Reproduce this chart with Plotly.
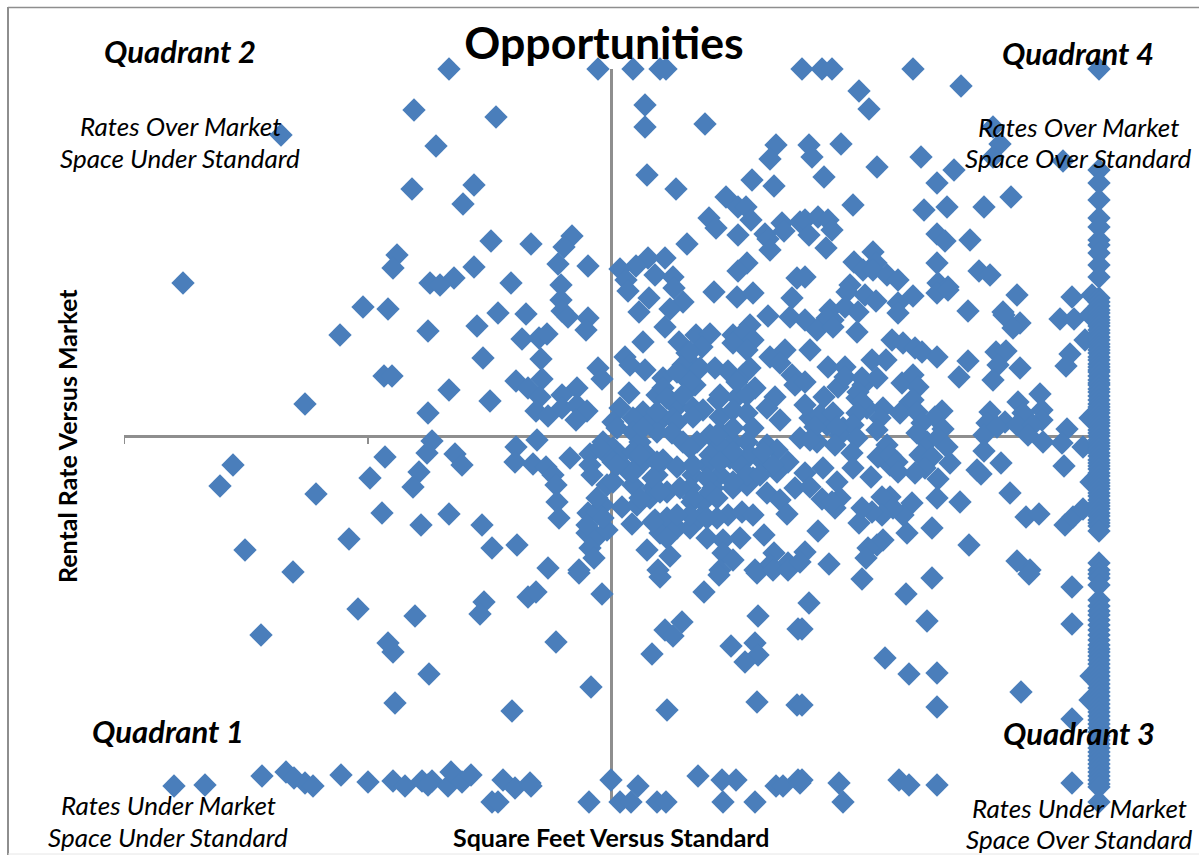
import plotly.graph_objects as go

# Values. x = square feet versus standard, y = rental rate versus market
top_row = [(-162,367),(-13,367),(22,367),(49,367),(55,367),(191,367),(211,367),(221,367),(302,367),(488,367)]

upper_left = [(-197,326),(-115,319),(-175,290),(-199,247),(-137,251),(-148,232),(-330,301),(-428,153),(-214,181),(-218,168),
(-39,200),(-47,189),(-80,192),(-120,195),(-53,172),(-23,170),(-137,169),(-157,158),(-181,153),(-171,151),(-100,153),(-50,151),
(-248,129),(-223,127),(-271,101),(-227,60),(-219,60),(-306,32),(-50,136),(-49,125),(-43,119),(-23,118),(-25,106),(-113,123),
(-85,122),(-134,110),(-183,105),(-89,97),(-72,98),(-64,102),(-128,78),(-70,77),(-13,68),(-9,57),(-69,57),(-95,55),(-83,48),
(-71,39),(-34,48),(-49,41),(-162,46),(-121,35),(-183,23),(-75,25),(-63,20),(-49,28),(-34,31),(-24,25),(-35,16)]

lower_left = [(-378,-29),(-391,-50),(-295,-58),(-226,-21),(-241,-42),(-229,-77),(-262,-103),(-366,-114),(-318,-136),
(-179,-5),(-184,-17),(-156,-18),(-149,-29),(-192,-36),(-198,-51),(-95,-11),(-74,-4),(-96,-26),(-78,-28),(-65,-31),(-58,-39),
(-55,-49),(-54,-66),(-52,-82),(-41,-22),(-21,-18),(-162,-78),(-190,-89),(-129,-89),(-119,-112),(-94,-109),(-63,-132),(-32,-134),
(-8,-6),(-21,-29),(-19,-39),(-4,-49),(-8,-69),(-23,-77),(-14,-76),(-24,-97),(-14,-101),(-21,-112),(-17,-122),(-4,-94),
(-196,-180),(-127,-166),(-131,-178),(-83,-161),(-75,-156),(-32,-137),(-9,-158),(-55,-206),(-218,-216),(-223,-207),(-182,-238),
(-20,-251),(-99,-275),(-216,-267),(-253,-173),(-350,-199)]

bottom_row = [(-437,-350),(-406,-349),(-349,-340),(-325,-336),(-317,-342),(-306,-347),(-298,-350),(-270,-339),(-243,-346),
(-218,-345),(-206,-350),(-189,-345),(-179,-345),(-183,-349),(-163,-350),(-160,-336),(-149,-346),(-140,-339),(-108,-344),
(-96,-352),(-81,-347),(-80,-350),(-119,-366),(-113,-366),(-22,-366),(0,-344),(27,-350),(9,-366),(20,-366),(46,-366),(55,-366),
(87,-340),(111,-344),(125,-344),(112,-366),(144,-366),(165,-350),(172,-350),(187,-344),(191,-344),(189,-347),(228,-347),
(232,-366),(288,-344),(298,-349),(326,-349),(461,-347)]

upper_right_high = [(34,331),(34,309),(94,312),(165,291),(159,277),(36,261),(65,247),(141,256),(163,250),(115,239),(127,229),
(135,229),(140,216),(98,218),(105,208),(127,201),(154,202),(157,197),(159,186),(171,213),(173,205),(189,214),(76,192),(136,173),
(127,165),(54,178),(37,178),(25,170),(9,167),(44,161),(62,159),(15,156),(186,158),(248,345),(258,327),(350,350),(382,309),
(389,292),(382,279),(452,275),(198,291),(201,279),(230,292),(213,259),(266,269),(310,279),(343,266),(326,253),(242,231),
(313,226),(336,229),(373,229),(400,239),(194,216),(207,219),(217,216),(221,206),(198,201),(215,188),(326,202),(334,195),
(359,196),(326,173),(368,165),(379,161),(262,184),(243,174),(265,173),(252,166),(262,166),(276,161),(287,156),(194,159),
(239,151),(327,153),(337,149)]

center_upper = [(17,145),(38,138),(72,134),(59,127),(28,124),(63,148),(103,144),(126,139),(142,143),(157,120),(181,138),(179,119),
(54,109),(32,94),(139,111),(68,94),(85,101),(99,102),(122,101),(132,103),(142,96),(122,93),(136,86),(91,89),(76,83),(82,71),
(72,71),(14,79),(19,71),(34,66),(52,58),(71,61),(84,51),(104,68),(117,65),(132,61),(139,68),(144,48),(159,79),(174,86),(169,73),
(181,61),(164,39),(184,51),(18,43),(46,41),(52,48),(59,36),(66,29),(9,28),(32,24),(22,18),(39,14),(52,18),(62,18),(82,28),(92,26),
(107,36),(126,39),(109,19),(122,26),(136,23),(142,8),(156,28),(169,16),(82,19),(66,14),(2,14),(6,8),(22,4),(46,4),(61,3),(99,1),(109,4)]

center_lower = [(29,-6),(72,-6),(86,-6),(122,-6),(109,-9),(136,-6),(156,-9),(166,-14),(177,-26),(2,-12),(9,-19),(-4,-19),(22,-16),
(36,-19),(52,-24),(79,-12),(99,-19),(119,-22),(139,-19),(152,-26),(2,-46),(16,-34),(29,-29),(46,-39),(66,-31),(82,-39),(96,-29),
(109,-39),(129,-29),(142,-42),(166,-36),(184,-52),(22,-49),(42,-52),(56,-56),(79,-52),(102,-52),(122,-52),(136,-49),(156,-57),
(169,-64),(11,-71),(26,-69),(39,-62),(81,-66),(92,-66),(117,-79),(131,-76),(142,-79),(176,-78),(21,-88),(44,-84),(56,-82),(49,-97),
(66,-92),(79,-92),(89,-82),(106,-82),(96,-102),(112,-104),(129,-102),(153,-99),(36,-114),(59,-120),(112,-117),(122,-124),(163,-117),
(177,-127),(159,-129),(109,-134),(144,-134),(47,-134),(49,-141),(108,-139),(146,-137),(162,-134),(177,-134),(93,-156),(71,-186),
(54,-194),(62,-200),(41,-218),(147,-180),(120,-210),(144,-207),(147,-219),(134,-226),(187,-193),(56,-274),(146,-266),(186,-269)]

center_dense = [(79,84),(89,68),(66,64),(79,54),(56,38),(72,41),(46,24),(32,8),(126,54),(109,41),(136,41),(122,8),(106,1),(109,-26),
(122,-16),(96,-42),(82,-62),(99,-56),(79,-79),(96,-82),(136,-39),(152,-16),(162,-29),(149,-39),(122,-46),(106,-62),(82,-29),(69,-52),
(46,-26),(29,-19),(42,-42),(22,-36),(2,-26),(-11,-12),(6,-29),(29,-62),(49,-56),(-8,-82),(42,-86),(66,-79),(56,-102),(-14,-62),(-24,-89),
(199,18),(216,11),(232,8),(189,-2),(206,-6),(229,1),(246,38),(256,28),(252,51),(279,-29),(316,-6),(299,34)]

right_upper = [(236,144),(254,141),(265,135),(287,133),(287,123),(302,140),(326,143),(337,146),(357,125),(406,141),(392,124),(393,121),
(409,113),(402,108),(461,139),(481,141),(449,117),(463,117),(479,121),(219,126),(234,129),(247,124),(222,116),(216,118),(194,116),
(206,106),(222,109),(246,104),(199,86),(281,96),(292,93),(304,88),(311,84),(326,79),(261,76),(275,76),(217,69),(234,69),(357,75),
(348,59),(385,84),(395,85),(387,71),(382,56),(409,68),(474,96),(459,82),(455,70),(194,54),(227,49),(234,59),(251,58),(266,58),
(291,53),(302,61),(307,49),(213,39),(247,44),(251,34),(272,28),(302,36),(289,23),(306,24),(331,25),(324,19),(311,13),(306,3),(332,7),
(194,31),(209,21),(222,23),(246,23),(242,11),(226,9),(204,9),(269,18),(266,6),(379,24),(376,13),(373,1),(394,14),(386,9),(407,34),
(412,23),(406,11),(429,42),(431,26),(431,16),(422,11),(417,1),(456,7),(479,18)]

right_lower = [(199,-4),(224,-9),(246,-2),(276,-9),(241,-17),(267,-21),(279,-19),(286,-26),(327,-2),(336,-11),(309,-19),(321,-21),
(339,-27),(314,-32),(304,-37),(287,-36),(242,-32),(260,-41),(212,-32),(226,-46),(194,-37),(199,-51),(327,-43),(432,-6),(451,-7),
(472,-11),(373,-15),(390,-27),(366,-34),(370,-38),(453,-30),(399,-57),(415,-81),(428,-78),(454,-89),(462,-81),(472,-73),(480,-46),
(358,-109),(326,-62),(349,-66),(321,-92),(296,-97),(248,-87),(207,-95),(301,-67),(292,-79),(279,-61),(271,-61),(282,-72),(271,-79),
(261,-76),(251,-72),(229,-62),(224,-72),(211,-63),(221,-66),(272,-104),(266,-109),(257,-112),(255,-122),(194,-116),(218,-128),
(189,-126),(406,-125),(419,-134),(251,-143),(321,-142),(418,-138),(461,-151),(295,-158),(198,-167),(316,-185),(461,-188),(191,-193),
(274,-222),(298,-238),(326,-237),(410,-256),(480,-240),(479,-264),(326,-271),(191,-269),(461,-283)]

edge_x = 488
edge_y = [266,253,236,218,209,196,191,183,171,159,138,134,130,126,123,119,116,113,110,106,103,99,96,92,89,86,83,79,76,72,69,66,64,60,56,
53,51,47,44,40,36,32,29,26,23,19,16,13,10,6,3,0,-4,-7,-10,-13,-17,-20,-24,-27,-30,-33,-37,-40,-44,-47,-50,-53,-57,-60,-64,-67,-70,-73,
-77,-80,-84,-87,-90,-95,-127,-134,-138,-142,-149,-164,-170,-175,-179,-184,-189,-194,-199,-204,-209,-213,-216,-220,-224,-228,-232,
-236,-240,-244,-248,-252,-256,-260,-264,-268,-272,-276,-280,-284,-288,-292,-296,-300,-304,-308,-312,-316,-320,-324,-328,-332,-336,
-340,-344,-348,-351,-366]

axis_tick_values = [-487, -243]
x_axis_title = "Square Feet Versus Standard"
y_axis_title = "Rental Rate Versus Market"
chart_title = "Opportunities"

groups = [top_row, upper_left, lower_left, bottom_row, upper_right_high, center_upper, center_lower, center_dense, right_upper, right_lower]
points = [p for g in groups for p in g] + [(edge_x, v) for v in edge_y]
xs = [p[0] for p in points]
ys = [p[1] for p in points]

W, H = 1199, 855
L, R, T, B = 124, 1100, 69, 803
FONT = "Lato"
BLUE = "#4A7EBB"
GRAY = "#8E8E8E"

def px(x):
    return (x - L) / (R - L)

def py(y):
    return (B - y) / (B - T)

fig = go.Figure(go.Scatter(
    x=xs, y=ys, mode="markers", cliponaxis=False,
    marker=dict(symbol="diamond", size=18, color=BLUE, line=dict(width=0)),
    showlegend=False, hoverinfo="skip",
))

labels = [
    ("<b><i>Quadrant 2</i></b>", 180, 51, 31, 0),
    ("<i>Rates Over Market</i>", 180, 126, 26, 0),
    ("<i>Space Under Standard</i>", 180, 158, 26, 0),
    ("<b><i>Quadrant 4</i></b>", 1078, 53, 31, 0),
    ("<i>Rates Over Market</i>", 1078, 127, 26, 0),
    ("<i>Space Over Standard</i>", 1078, 158, 26, 0),
    ("<b><i>Quadrant 1</i></b>", 168, 731, 31, 0),
    ("<i>Rates Under Market</i>", 168, 805, 26, 0),
    ("<i>Space Under Standard</i>", 168, 837, 26, 0),
    ("<b><i>Quadrant 3</i></b>", 1079, 733, 31, 0),
    ("<i>Rates Under Market</i>", 1079, 808, 26, 0),
    ("<i>Space Over Standard</i>", 1079, 839, 26, 0),
    (f"<b>{x_axis_title}</b>", 611, 837, 25, 0),
    (f"<b>{y_axis_title}</b>", 67, 436, 25, -90),
]
annotations = [dict(text=t, x=px(a), y=py(b), xref="paper", yref="paper", showarrow=False, textangle=ang,
                    xanchor="center", yanchor="middle", font=dict(family=FONT, size=s, color="black"))
               for t, a, b, s, ang in labels]

shapes = [dict(type="line", xref="x", yref="y", x0=v, x1=v, y0=0, y1=-8, line=dict(color=GRAY, width=2))
          for v in axis_tick_values]
shapes += [
    dict(type="line", xref="paper", yref="paper", x0=px(8), x1=px(8), y0=py(7), y1=py(855), line=dict(color=GRAY, width=2)),
    dict(type="line", xref="paper", yref="paper", x0=px(8), x1=px(1199), y0=py(7.5), y1=py(7.5), line=dict(color=GRAY, width=1.5)),
    dict(type="line", xref="paper", yref="paper", x0=px(8), x1=px(1199), y0=py(854), y1=py(854), line=dict(color="#E6E6E6", width=1)),
]

fig.update_layout(
    width=W, height=H, autosize=False,
    margin=dict(l=L, r=W - R, t=T, b=H - B, pad=0),
    paper_bgcolor="white", plot_bgcolor="white",
    showlegend=False,
    title=dict(text=f"<b>{chart_title}</b>", x=604 / W, xanchor="center",
               y=1 - 43 / H, yanchor="middle", font=dict(family=FONT, size=44.7, color="black")),
    xaxis=dict(range=[-487, 489], showgrid=False, showticklabels=False, ticks="", showline=False,
               zeroline=True, zerolinecolor=GRAY, zerolinewidth=2.5),
    yaxis=dict(range=[-367, 367], showgrid=False, showticklabels=False, ticks="", showline=False,
               zeroline=True, zerolinecolor=GRAY, zerolinewidth=2.5),
    annotations=annotations, shapes=shapes,
)

fig.write_html("out.html", config={"displayModeBar": False},
               post_script="document.body.style.margin='0';document.body.style.overflow='hidden';")
